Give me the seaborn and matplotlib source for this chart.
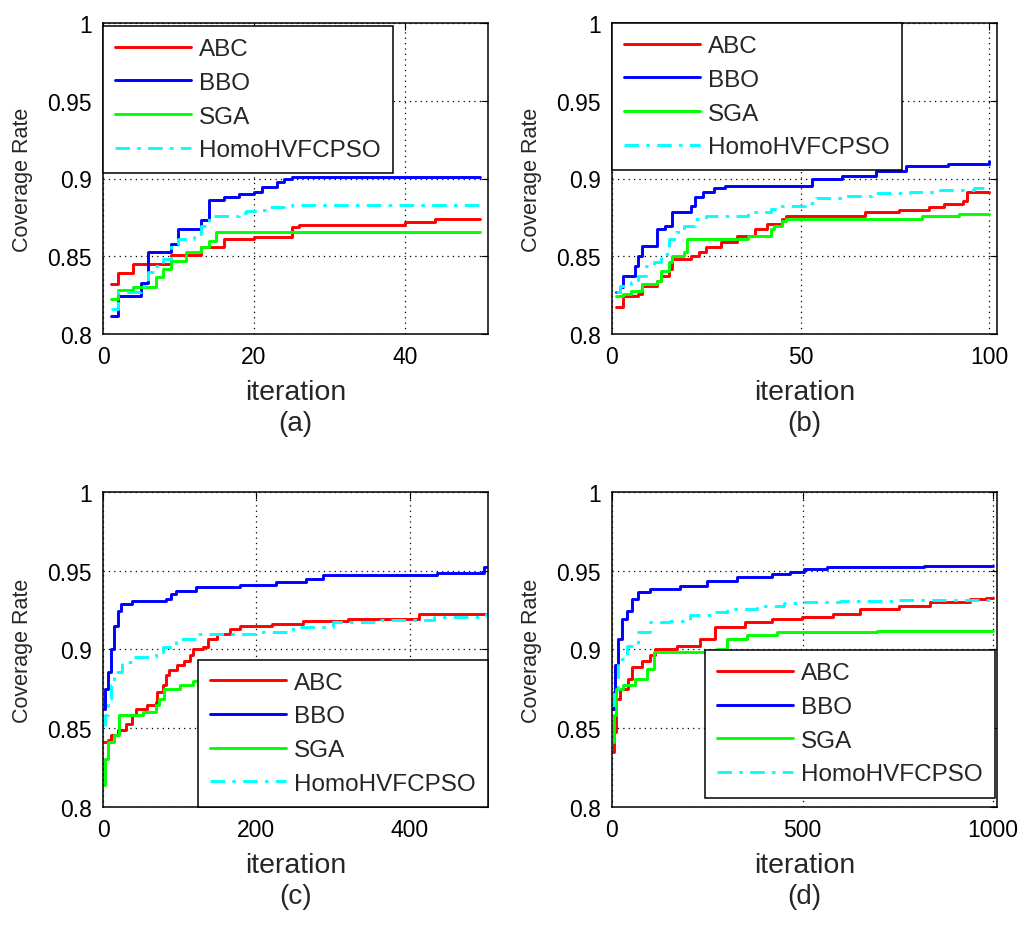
import matplotlib
matplotlib.use("Agg")
import matplotlib.pyplot as plt
import seaborn as sns

sns.set_theme(style="white")
plt.rcParams['font.family'] = ['Liberation Sans', 'DejaVu Sans']

names = ['ABC', 'BBO', 'SGA', 'HomoHVFCPSO']
colors = ['#ff0000', '#0000ff', '#00ff00', '#00ffff']
styles = ['-', '-', '-', (0, (5, 2.5, 1.2, 2.5))]

y_ticks = [0.8, 0.85, 0.9, 0.95, 1.0]
y_ticklabels = ['0.8', '0.85', '0.9', '0.95', '1']

# (a) 50 iterations - breakpoints where the best value changes
a_it_abc = [1, 2, 4, 9, 13, 16, 20, 25, 26, 40, 44, 50]
a_abc = [0.832, 0.839, 0.845, 0.851, 0.856, 0.861, 0.8625, 0.8686, 0.870, 0.8718, 0.874, 0.874]
a_it_bbo = [1, 2, 5, 6, 9, 10, 13, 14, 16, 18, 20, 21, 23, 24, 25, 50]
a_bbo = [0.8118, 0.8247, 0.833, 0.853, 0.858, 0.8675, 0.873, 0.886, 0.888, 0.890, 0.891, 0.8943, 0.8975, 0.8996, 0.9007, 0.9007]
a_it_sga = [1, 2, 4, 7, 8, 9, 11, 13, 14, 15, 50]
a_sga = [0.8225, 0.828, 0.830, 0.8364, 0.842, 0.847, 0.8525, 0.8557, 0.860, 0.8654, 0.8654]
a_it_homo = [1, 2, 5, 6, 7, 8, 9, 10, 12, 13, 14, 18, 19, 21, 22, 24, 25, 50]
a_homo = [0.816, 0.8268, 0.831, 0.8397, 0.844, 0.848, 0.857, 0.861, 0.8643, 0.8697, 0.876, 0.878, 0.8793, 0.880, 0.8815, 0.8825, 0.883, 0.883]

# (b) 100 iterations
b_it_abc = [1, 3, 7, 8, 12, 13, 15, 16, 21, 23, 25, 29, 33, 38, 41, 45, 46, 67, 76, 84, 88, 93, 94, 100]
b_abc = [0.8171, 0.8246, 0.8257, 0.831, 0.8343, 0.8375, 0.8418, 0.8482, 0.8503, 0.8525, 0.8557, 0.8589,
         0.8632, 0.8675, 0.8707, 0.8739, 0.8756, 0.8782, 0.8799, 0.8814, 0.8835, 0.8857, 0.891, 0.891]
b_it_bbo = [1, 2, 3, 6, 7, 8, 12, 14, 16, 21, 22, 24, 27, 30, 53, 61, 70, 78, 89, 100]
b_bbo = [0.8268, 0.830, 0.8375, 0.844, 0.8504, 0.8567, 0.8675, 0.8696, 0.8782, 0.8825, 0.8878, 0.891,
         0.8942, 0.8953, 0.8996, 0.9017, 0.905, 0.908, 0.9096, 0.911]
b_it_sga = [1, 3, 5, 8, 12, 13, 15, 16, 19, 20, 36, 42, 43, 45, 46, 82, 92, 100]
b_sga = [0.8246, 0.8257, 0.8278, 0.8321, 0.8343, 0.8407, 0.846, 0.8503, 0.8525, 0.861, 0.8632, 0.8675,
         0.8696, 0.8728, 0.8739, 0.876, 0.8771, 0.8771]
b_it_homo = [1, 2, 5, 7, 9, 11, 13, 15, 17, 19, 22, 25, 36, 42, 44, 51, 54, 61, 69, 79, 87, 96, 100]
b_homo = [0.8268, 0.831, 0.8332, 0.8375, 0.8439, 0.846, 0.8514, 0.861, 0.8653, 0.8696, 0.8739, 0.876,
          0.8782, 0.8807, 0.8824, 0.8842, 0.8872, 0.8889, 0.8906, 0.8914, 0.8927, 0.8936, 0.8936]

# (c) 500 iterations
c_it_abc = [1, 6, 10, 19, 30, 38, 43, 58, 69, 71, 78, 82, 86, 97, 106, 113, 117, 130, 137, 148, 165,
            178, 220, 261, 320, 412, 500]
c_abc = [0.8412, 0.8423, 0.8455, 0.8486, 0.8529, 0.8581, 0.8624, 0.8645, 0.8666, 0.8729, 0.8772, 0.8835,
         0.8867, 0.8899, 0.893, 0.8962, 0.900, 0.9015, 0.9068, 0.9099, 0.9131, 0.9152, 0.9163, 0.9178,
         0.9195, 0.9226, 0.9226]
c_it_bbo = [1, 3, 6, 10, 14, 19, 23, 38, 82, 89, 95, 121, 178, 226, 265, 287, 436, 497, 500]
c_bbo = [0.8624, 0.875, 0.8856, 0.9004, 0.9152, 0.9247, 0.929, 0.9311, 0.9321, 0.9353, 0.9374, 0.9395,
         0.941, 0.9427, 0.9448, 0.9474, 0.9484, 0.9522, 0.9522]
c_it_sga = [1, 3, 6, 14, 21, 52, 69, 73, 80, 100, 117, 200, 320, 500]
c_sga = [0.8137, 0.8307, 0.8412, 0.8455, 0.8581, 0.8603, 0.8645, 0.8687, 0.8751, 0.8772, 0.8803,
         0.884, 0.886, 0.886]
c_it_homo = [1, 3, 6, 10, 14, 25, 38, 69, 78, 95, 121, 200, 248, 300, 362, 431, 500]
c_homo = [0.8518, 0.8581, 0.8687, 0.8772, 0.8856, 0.892, 0.8951, 0.8983, 0.9015, 0.9068, 0.9099, 0.911,
          0.9142, 0.9173, 0.919, 0.9205, 0.9233]

# (d) 1000 iterations
d_it_abc = [1, 5, 11, 21, 43, 52, 78, 100, 113, 170, 231, 271, 349, 419, 498, 581, 651, 752, 835, 940, 980, 1000]
d_abc = [0.8349, 0.8476, 0.8687, 0.8751, 0.8814, 0.8888, 0.893, 0.8962, 0.900, 0.9025, 0.9068, 0.9142,
         0.9173, 0.9195, 0.9205, 0.9226, 0.9258, 0.9279, 0.930, 0.9321, 0.9326, 0.9326]
d_it_bbo = [1, 4, 8, 17, 25, 39, 52, 69, 100, 179, 249, 327, 419, 468, 503, 564, 818, 1000]
d_bbo = [0.8624, 0.8729, 0.8899, 0.9068, 0.9195, 0.9247, 0.9321, 0.9364, 0.9385, 0.9406, 0.9438, 0.9459,
         0.948, 0.9495, 0.9512, 0.9522, 0.9533, 0.9533]
d_it_sga = [1, 5, 11, 30, 60, 91, 109, 205, 275, 301, 354, 433, 695, 1000]
d_sga = [0.8412, 0.8581, 0.8751, 0.8772, 0.8814, 0.8877, 0.8983, 0.8987, 0.9004, 0.9068, 0.9089, 0.911,
         0.912, 0.912]
d_it_homo = [1, 5, 17, 39, 69, 100, 152, 205, 266, 301, 380, 450, 498, 599, 748, 1000]
d_homo = [0.8645, 0.8751, 0.8941, 0.9025, 0.911, 0.9173, 0.9184, 0.9216, 0.9237, 0.9258, 0.9279, 0.9296,
          0.9304, 0.9311, 0.9317, 0.9326]

panels = [
    ([a_it_abc, a_it_bbo, a_it_sga, a_it_homo], [a_abc, a_bbo, a_sga, a_homo], 51, [0, 20, 40], '(a)'),
    ([b_it_abc, b_it_bbo, b_it_sga, b_it_homo], [b_abc, b_bbo, b_sga, b_homo], 102, [0, 50, 100], '(b)'),
    ([c_it_abc, c_it_bbo, c_it_sga, c_it_homo], [c_abc, c_bbo, c_sga, c_homo], 502, [0, 200, 400], '(c)'),
    ([d_it_abc, d_it_bbo, d_it_sga, d_it_homo], [d_abc, d_bbo, d_sga, d_homo], 1010, [0, 500, 1000], '(d)'),
]

# axes rectangles in figure fractions (left, bottom, width, height)
rects = [
    (103 / 1024, 1 - 335 / 928, 385 / 1024, 311 / 928),
    (612 / 1024, 1 - 335 / 928, 385 / 1024, 311 / 928),
    (103 / 1024, 1 - 808 / 928, 385 / 1024, 315 / 928),
    (612 / 1024, 1 - 808 / 928, 385 / 1024, 315 / 928),
]
legend_pos = [
    dict(loc='upper left', bbox_to_anchor=(0.0, 0.99)),
    dict(loc='upper left', bbox_to_anchor=(0.0, 1.0)),
    dict(loc='lower right', bbox_to_anchor=(1.0, 0.0)),
    dict(loc='lower right', bbox_to_anchor=(0.995, 0.03)),
]

fig = plt.figure(figsize=(10.24, 9.28), dpi=100)

for (its, vals, xmax, xticks, tag), rect, lpos in zip(panels, rects, legend_pos):
    ax = fig.add_axes(rect)
    handles = []
    for it, v, name, col, ls in zip(its, vals, names, colors, styles):
        sns.lineplot(x=it, y=v, ax=ax, color=col, linestyle=ls, linewidth=2.1,
                     drawstyle='steps-post', estimator=None, legend=False)
        handles.append(ax.lines[-1])
    ax.set_xlim(0, xmax)
    ax.set_ylim(0.8, 1.0)
    ax.set_xticks(xticks)
    ax.set_xticklabels([str(t) for t in xticks])
    ax.set_yticks(y_ticks)
    ax.set_yticklabels(y_ticklabels)
    ax.grid(True, color='black', linestyle=(0, (1, 3.3)), linewidth=0.9)
    ax.tick_params(direction='in', top=True, right=True, length=5, width=0.8,
                   labelsize=16.5, pad=8, colors='black')
    for s in ax.spines.values():
        s.set_color('black')
        s.set_linewidth(1.1)
    ax.set_xlabel('iteration', fontsize=20.5, labelpad=8)
    ax.set_ylabel('Coverage Rate', fontsize=15.5, labelpad=10)
    ax.annotate(tag, xy=(0.5, 0), xycoords='axes fraction', xytext=(0, -64),
                textcoords='offset points', ha='center', va='center', fontsize=20)
    leg = ax.legend(handles, names, fontsize=17.5, frameon=True, fancybox=False,
                    framealpha=1, edgecolor='black', borderaxespad=0,
                    handlelength=3.1, handletextpad=0.35, labelspacing=0.48,
                    borderpad=0.5, **lpos)
    leg.get_frame().set_linewidth(1.1)

fig.savefig('out.png', dpi=100)
